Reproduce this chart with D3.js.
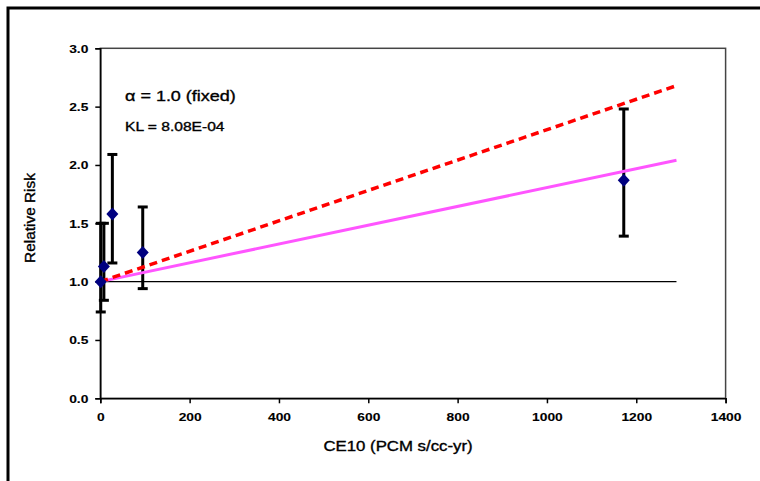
<!DOCTYPE html>
<html>
<head>
<meta charset="utf-8">
<script src="https://cdn.jsdelivr.net/npm/d3@7"></script>
<style>
  body { margin: 0; background: #fff; }
  text { font-family: "Liberation Sans", Arial, sans-serif; fill: #000; stroke: #000; stroke-width: 0.35px; }
  .tickLabel { font-size: 11.5px; font-weight: bold; stroke-width: 0.1px; }
</style>
</head>
<body>
<div id="chart"></div>
<script>
// data
const ce10 = [1, 8, 27, 95, 1172];
const relRisk = [1.0, 1.13, 1.58, 1.25, 1.87];
const ciLow = [0.74, 0.84, 1.16, 0.94, 1.39];
const ciHigh = [1.5, 1.5, 2.09, 1.64, 2.48];

const fitX = [0, 1290];
const linearFit = [1.0, 2.04];   // KL = 8.08E-04, solid magenta
const dashedFit = [1.0, 2.68];   // red dashed
const refLine = [1.0, 1.0];

const xTicks = [0, 200, 400, 600, 800, 1000, 1200, 1400];
const yTicks = [0, 0.5, 1.0, 1.5, 2.0, 2.5, 3.0];

const width = 760, height = 481;
const margin = { top: 48.3, right: 34.4, bottom: 82.7, left: 100.3 };
const stretch = 1.2; // text in the picture is a bit wide

const svg = d3.select("#chart").append("svg")
  .attr("width", width)
  .attr("height", height);

// outer frame (runs off the right and bottom)
svg.append("rect")
  .attr("x", 8).attr("y", 8)
  .attr("width", 800).attr("height", 600)
  .attr("fill", "none")
  .attr("stroke", "#000")
  .attr("stroke-width", 3);

let x = d3.scaleLinear()
  .domain([0, 1400])
  .range([margin.left, width - margin.right]);

let y = d3.scaleLinear()
  .domain([0, 3])
  .range([height - margin.bottom, margin.top]);

// plot frame
svg.append("rect")
  .attr("x", x(0)).attr("y", y(3))
  .attr("width", x(1400) - x(0)).attr("height", y(0) - y(3))
  .attr("fill", "none")
  .attr("stroke", "#444")
  .attr("stroke-width", 1.5);

let xAxis = d3.axisBottom(x).tickValues(xTicks).tickSize(5).tickPadding(0).tickFormat(d3.format("d"));
let yAxis = d3.axisLeft(y).tickValues(yTicks).tickSize(5).tickPadding(0).tickFormat(d3.format(".1f"));

let gx = svg.append("g")
  .attr("transform", `translate(0,${y(0)})`)
  .call(xAxis);
gx.select(".domain").attr("stroke", "#000").attr("stroke-width", 1.5);
gx.selectAll(".tick line").attr("stroke", "#000").attr("stroke-width", 1.5);
gx.selectAll(".tick text")
  .attr("class", "tickLabel")
  .attr("y", 0).attr("dy", 0)
  .attr("transform", `translate(0,22.5) scale(${stretch},1)`);

let gy = svg.append("g")
  .attr("transform", `translate(${x(0)},0)`)
  .call(yAxis);
gy.select(".domain").attr("stroke", "#000").attr("stroke-width", 1.5);
gy.selectAll(".tick line").attr("stroke", "#000").attr("stroke-width", 1.5);
gy.selectAll(".tick text")
  .attr("class", "tickLabel")
  .attr("x", 0).attr("dy", "0.35em")
  .attr("transform", `translate(-12,0) scale(${stretch},1)`);
svg.selectAll("g").attr("font-family", null).attr("font-size", null);

// reference line at RR = 1
let line = d3.line().x(d => x(d[0])).y(d => y(d[1]));

svg.append("path")
  .datum(d3.zip(fitX, refLine))
  .attr("d", line)
  .attr("fill", "none")
  .attr("stroke", "#000")
  .attr("stroke-width", 1.2);

// error bars
let pts = ce10.map((c, i) => ({ x: c, rr: relRisk[i], lo: ciLow[i], hi: ciHigh[i] }));

let bars = svg.append("g").attr("stroke", "#000").attr("stroke-width", 3);
bars.selectAll("line.whisker")
  .data(pts).enter().append("line")
  .attr("class", "whisker")
  .attr("x1", d => x(d.x)).attr("x2", d => x(d.x))
  .attr("y1", d => y(d.lo)).attr("y2", d => y(d.hi));
bars.selectAll("line.capHi")
  .data(pts).enter().append("line")
  .attr("class", "capHi")
  .attr("x1", d => x(d.x) - 5).attr("x2", d => x(d.x) + 5)
  .attr("y1", d => y(d.hi)).attr("y2", d => y(d.hi));
bars.selectAll("line.capLo")
  .data(pts).enter().append("line")
  .attr("class", "capLo")
  .attr("x1", d => x(d.x) - 5).attr("x2", d => x(d.x) + 5)
  .attr("y1", d => y(d.lo)).attr("y2", d => y(d.lo));

// fitted lines
svg.append("path")
  .datum(d3.zip(fitX, linearFit))
  .attr("d", line)
  .attr("fill", "none")
  .attr("stroke", "#ff55ff")
  .attr("stroke-width", 3);

svg.append("path")
  .datum(d3.zip(fitX, dashedFit))
  .attr("d", line)
  .attr("fill", "none")
  .attr("stroke", "#ff0000")
  .attr("stroke-width", 3.5)
  .attr("stroke-dasharray", "8,5");

// diamonds
svg.selectAll("path.pt")
  .data(pts).enter().append("path")
  .attr("class", "pt")
  .attr("d", "M0,-6.5L6,0L0,6.5L-6,0Z")
  .attr("transform", d => `translate(${x(d.x)},${y(d.rr)})`)
  .attr("fill", "#000080");

// annotations
svg.append("text")
  .attr("transform", `translate(125,101) scale(${stretch},1)`)
  .style("font-size", "15px")
  .text("α = 1.0 (fixed)");

svg.append("text")
  .attr("transform", `translate(125,131) scale(${stretch},1)`)
  .style("font-size", "13px")
  .text("KL = 8.08E-04");

// axis titles
svg.append("text")
  .attr("transform", `translate(398,451) scale(${stretch},1)`)
  .style("font-size", "14px")
  .style("text-anchor", "middle")
  .text("CE10 (PCM s/cc-yr)");

svg.append("text")
  .attr("transform", "translate(35,218) rotate(-90) scale(1.1,1)")
  .style("font-size", "14px")
  .style("text-anchor", "middle")
  .text("Relative Risk");
</script>
</body>
</html>
